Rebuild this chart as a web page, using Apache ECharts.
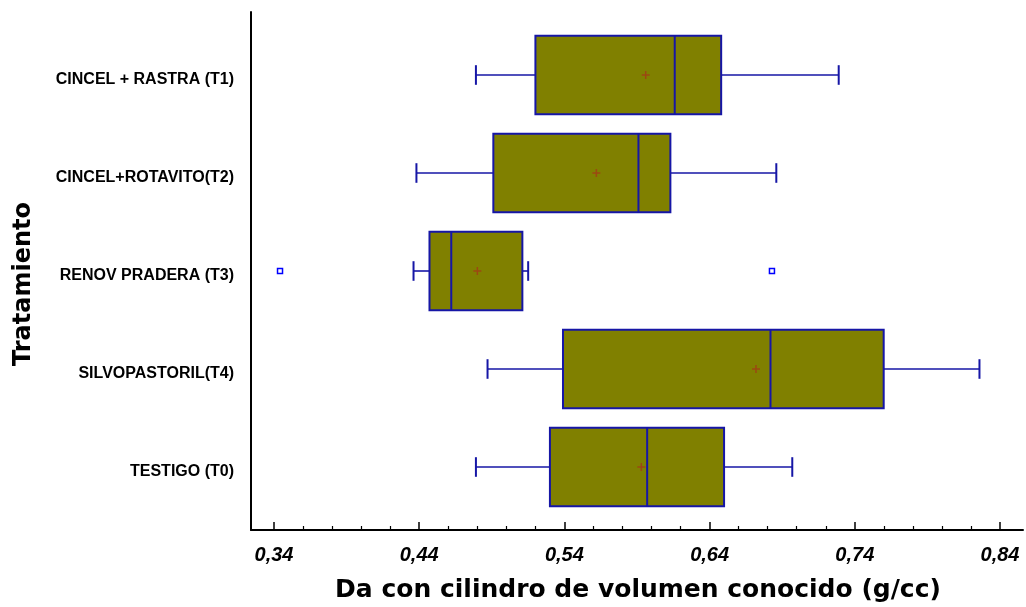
<!DOCTYPE html>
<html>
<head>
<meta charset="utf-8">
<script src="https://cdn.jsdelivr.net/npm/echarts@6/dist/echarts.min.js"></script>
<style>
  html, body { margin: 0; padding: 0; background: #ffffff; }
  #chart { width: 1026px; height: 607px; }
</style>
</head>
<body>
<div id="chart"></div>
<script>
// Treatments, listed from top to bottom
const categories = [
  'CINCEL + RASTRA (T1)',
  'CINCEL+ROTAVITO(T2)',
  'RENOV PRADERA (T3)',
  'SILVOPASTORIL(T4)',
  'TESTIGO (T0)'
];
// Box-and-whisker statistics for bulk density (g/cc)
const whiskerLow  = [0.479, 0.438, 0.436, 0.487, 0.479];
const quartile1   = [0.520, 0.491, 0.447, 0.539, 0.530];
const medians     = [0.616, 0.591, 0.462, 0.682, 0.597];
const quartile3   = [0.648, 0.613, 0.511, 0.760, 0.650];
const whiskerHigh = [0.729, 0.686, 0.515, 0.826, 0.697];
const means       = [0.596, 0.562, 0.480, 0.672, 0.593];
// Outside points: [value, treatment index]
const outliers = [[0.344, 2], [0.683, 2]];
// Axis tick labels
const tickValues = [0.34, 0.44, 0.54, 0.64, 0.74, 0.84];

const xTitle = 'Da con cilindro de volumen conocido (g/cc)';
const yTitle = 'Tratamiento';

const boxData = categories.map((c, i) => [i, whiskerLow[i], quartile1[i], medians[i], quartile3[i], whiskerHigh[i], means[i]]);

const BOX_FILL = '#808000';
const BOX_LINE = '#1616a6';
const MEAN_COLOR = '#9c4812';

function renderBox(params, api) {
  const cat = api.value(0);
  const lo = api.coord([api.value(1), cat]);
  const q1 = api.coord([api.value(2), cat]);
  const md = api.coord([api.value(3), cat]);
  const q3 = api.coord([api.value(4), cat]);
  const hi = api.coord([api.value(5), cat]);
  const mn = api.coord([api.value(6), cat]);
  const band = api.size([0, 1])[1];
  const y = lo[1];
  const h = band * 0.8;
  const cap = band * 0.2;
  const wStyle = { stroke: BOX_LINE, lineWidth: 1.6 };
  const m = 4;
  return {
    type: 'group',
    children: [
      { type: 'line', shape: { x1: lo[0], y1: y, x2: q1[0], y2: y }, style: wStyle },
      { type: 'line', shape: { x1: q3[0], y1: y, x2: hi[0], y2: y }, style: wStyle },
      { type: 'line', shape: { x1: lo[0], y1: y - cap / 2, x2: lo[0], y2: y + cap / 2 }, style: { stroke: BOX_LINE, lineWidth: 2 } },
      { type: 'line', shape: { x1: hi[0], y1: y - cap / 2, x2: hi[0], y2: y + cap / 2 }, style: { stroke: BOX_LINE, lineWidth: 2 } },
      { type: 'rect', shape: { x: q1[0], y: y - h / 2, width: q3[0] - q1[0], height: h },
        style: { fill: BOX_FILL, stroke: BOX_LINE, lineWidth: 2 } },
      { type: 'line', shape: { x1: md[0], y1: y - h / 2, x2: md[0], y2: y + h / 2 }, style: { stroke: BOX_LINE, lineWidth: 2 } },
      { type: 'line', shape: { x1: mn[0] - m, y1: mn[1], x2: mn[0] + m, y2: mn[1] }, style: { stroke: MEAN_COLOR, lineWidth: 1.5 } },
      { type: 'line', shape: { x1: mn[0], y1: mn[1] - m, x2: mn[0], y2: mn[1] + m }, style: { stroke: MEAN_COLOR, lineWidth: 1.5 } }
    ]
  };
}

const chart = echarts.init(document.getElementById('chart'), null, { renderer: 'canvas' });

const hidden = { show: false };
const option = {
  animation: false,
  backgroundColor: '#ffffff',
  grid: [
    // frame: the two axis lines
    { left: 251, right: 3, top: 12, bottom: 77 },
    // tick marks and tick labels of the value axis
    { left: 274, right: 26, top: 12, bottom: 77 },
    // plotting area for the boxes, one band per treatment
    { left: 251, right: 3, top: 26, bottom: 91 }
  ],
  xAxis: [
    {
      gridIndex: 0, type: 'value', min: 0.324, max: 0.856,
      axisLine: { show: true, lineStyle: { color: '#000', width: 2 } },
      axisTick: hidden, axisLabel: hidden, splitLine: hidden
    },
    {
      gridIndex: 1, type: 'value', min: tickValues[0], max: tickValues[tickValues.length - 1], interval: 0.1,
      axisLine: hidden,
      axisTick: { show: true, inside: true, length: 8, lineStyle: { color: '#000', width: 1.5 } },
      minorTick: { show: true, splitNumber: 5, length: 4, lineStyle: { color: '#000', width: 1.2 } },
      axisLabel: {
        show: true, margin: 15,
        formatter: v => v.toFixed(2).replace('.', ','),
        fontFamily: '"Liberation Sans", Arial, sans-serif',
        fontSize: 20, fontWeight: 'bold', fontStyle: 'italic', color: '#000'
      },
      splitLine: hidden
    },
    {
      gridIndex: 2, type: 'value', min: 0.324, max: 0.856,
      axisLine: hidden, axisTick: hidden, axisLabel: hidden, splitLine: hidden
    }
  ],
  yAxis: [
    {
      gridIndex: 0, type: 'value', min: 0, max: 1,
      axisLine: { show: true, lineStyle: { color: '#000', width: 2 } },
      axisTick: hidden, axisLabel: hidden, splitLine: hidden
    },
    {
      gridIndex: 1, type: 'value', show: false
    },
    {
      gridIndex: 2, type: 'category', data: categories, inverse: true,
      axisLine: hidden, axisTick: hidden, splitLine: hidden,
      axisLabel: {
        show: true, margin: 17,
        verticalAlign: 'top', lineHeight: 9,
        fontFamily: '"Liberation Sans", Arial, sans-serif',
        fontSize: 16, fontWeight: 'bold', color: '#000'
      }
    }
  ],
  series: [
    {
      type: 'custom',
      xAxisIndex: 2, yAxisIndex: 2,
      renderItem: renderBox,
      encode: { x: [1, 2, 3, 4, 5, 6], y: 0 },
      data: boxData,
      z: 2
    },
    {
      type: 'scatter',
      xAxisIndex: 2, yAxisIndex: 2,
      symbol: 'rect', symbolSize: 5,
      itemStyle: { color: '#ffffff', borderColor: '#0000ff', borderWidth: 1.5, opacity: 1 },
      data: outliers,
      z: 3
    }
  ],
  graphic: [
    {
      type: 'text', x: 638, y: 590,
      style: {
        text: xTitle, align: 'center', verticalAlign: 'middle',
        font: 'bold 25px "DejaVu Sans", sans-serif', fill: '#000'
      }
    },
    {
      type: 'text', x: 24, y: 284, rotation: Math.PI / 2,
      style: {
        text: yTitle, align: 'center', verticalAlign: 'middle',
        font: 'bold 24px "DejaVu Sans", sans-serif', fill: '#000'
      }
    }
  ]
};

chart.setOption(option);
</script>
</body>
</html>
